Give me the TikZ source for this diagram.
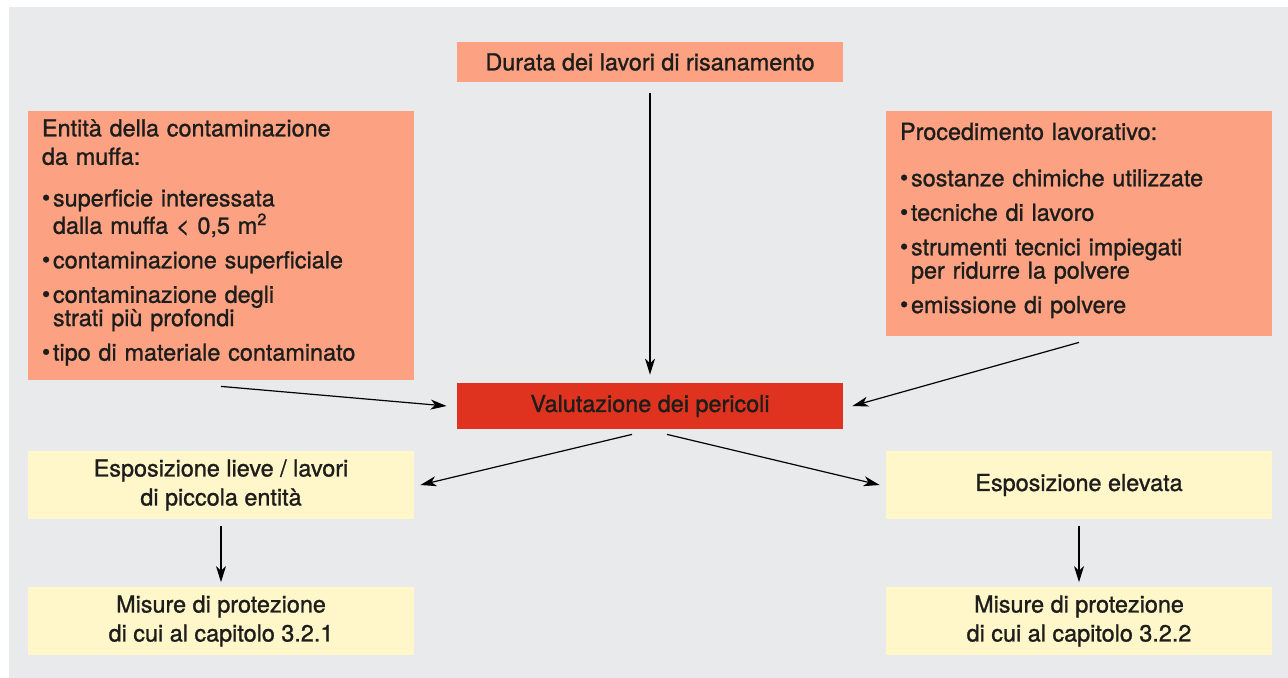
\documentclass[tikz,border=0pt]{standalone}
\usepackage{fontspec}
\setmainfont{TeX Gyre Heros}[FakeBold=1.1]
\usepackage{graphicx}
\usetikzlibrary{arrows.meta}

\definecolor{panelgrey}{HTML}{E9EAEC}
\definecolor{salmon}{HTML}{FCA283}
\definecolor{hazardred}{HTML}{E0331F}
\definecolor{paleyellow}{HTML}{FFF6CA}
\definecolor{inkblack}{HTML}{1D1D1B}

\newcommand{\bul}{\makebox[5.5pt][l]{\raisebox{0.05ex}{\textbullet}}}
\newcommand{\cont}{\hspace*{5.5pt}}

\begin{document}
\begin{tikzpicture}[x=0.5pt, y=-0.5pt, node distance=68pt, text=inkblack,
  font=\fontsize{11.7pt}{11.65pt}\selectfont,
  >={Stealth[length=8pt, width=5pt, inset=2.3pt]}]
\tikzstyle{factor} = [rectangle, fill=salmon, text width=179pt, align=left,
                      inner xsep=7pt, inner ysep=0pt]
\tikzstyle{hazard} = [rectangle, fill=hazardred, minimum width=193pt,
                      minimum height=23pt, align=center]
\tikzstyle{outcome} = [rectangle, fill=paleyellow, minimum width=193pt,
                       minimum height=34pt, align=center,
                       font=\fontsize{11.7pt}{14.5pt}\selectfont]

\useasboundingbox (0,0) rectangle (1288,678);
\fill[panelgrey] (9,7) rectangle (1288,678);

\node[hazard, fill=salmon, minimum height=20pt] (duration) at (650,62) {Durata dei lavori di risanamento};
\node[factor, minimum height=134.5pt] (extent) at (221,245.5) {Entità della contaminazione\\[2.55pt]
  da muffa:\\[9.15pt]
  \bul superficie interessata\\
  \cont dalla muffa < 0,5 m\textsuperscript{2}\\[5.6pt]
  \bul contaminazione superficiale\\[5.6pt]
  \bul contaminazione degli\\
  \cont strati più profondi\\[5.6pt]
  \bul tipo di materiale contaminato\par\vspace{3pt}};
\node[factor, minimum height=112.5pt] (process) at (1079,223.5) {Procedimento lavorativo:\\[11.55pt]
  \bul sostanze chimiche utilizzate\\[5.6pt]
  \bul tecniche di lavoro\\[5.6pt]
  \bul strumenti tecnici impiegati\\
  \cont per ridurre la polvere\\[5.6pt]
  \bul emissione di polvere\par\vspace{3pt}};
\node[hazard] (risk) at (650,406) {Valutazione dei pericoli};
\node[outcome] (lexp) at (221,485) {Esposizione lieve / lavori\\di piccola entità};
\node[outcome, below of=lexp] (lmeas) {Misure di protezione\\di cui al capitolo 3.2.1};
\node[outcome] (rexp) at (1079,485) {Esposizione elevata};
\node[outcome, below of=rexp] (rmeas) {Misure di protezione\\di cui al capitolo 3.2.2};

\draw[->, semithick, shorten <=5.5pt, shorten >=4pt] (duration) -- (risk);
\draw[->, semithick] ([yshift=-3pt]extent.south) -- ([xshift=-5pt]risk.west);
\draw[->, semithick] ([yshift=-3pt]process.south) -- ([xshift=4.5pt]risk.east);
\draw[->, semithick] ([shift={(-9pt,-2.5pt)}]risk.south) -- ([xshift=3pt]lexp.east);
\draw[->, semithick] ([shift={(8.5pt,-2.5pt)}]risk.south) -- ([xshift=-3pt]rexp.west);
\draw[->, semithick, shorten <=3.25pt, shorten >=2.25pt] (lexp) -- (lmeas);
\draw[->, semithick, shorten <=3.25pt, shorten >=2.25pt] (rexp) -- (rmeas);
\end{tikzpicture}
\end{document}
